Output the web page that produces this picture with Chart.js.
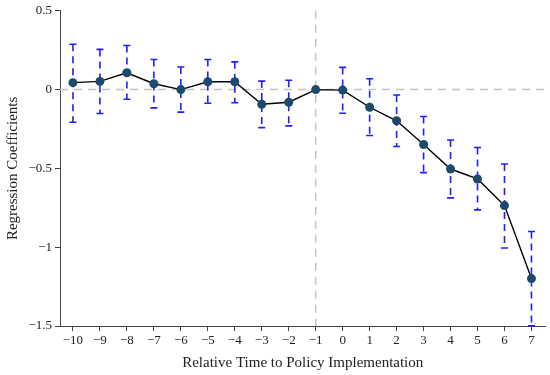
<!DOCTYPE html>
<html>
<head>
<meta charset="utf-8">
<script src="https://cdn.jsdelivr.net/npm/chart.js@4/dist/chart.umd.min.js"></script>
<style>
html,body{margin:0;padding:0;background:#fff;}
#wrap{width:550px;height:375px;}
</style>
</head>
<body>
<div id="wrap"><canvas id="c" width="550" height="375"></canvas></div>
<script>
const relTime = [-10,-9,-8,-7,-6,-5,-4,-3,-2,-1,0,1,2,3,4,5,6,7];
const coef    = [0.044,0.052,0.107,0.037,0.000,0.050,0.050,-0.093,-0.080,0.000,-0.003,-0.112,-0.198,-0.348,-0.504,-0.567,-0.736,-1.199];
const ciHigh  = [0.288,0.255,0.280,0.191,0.143,0.191,0.176,0.054,0.059,null,0.141,0.069,-0.034,-0.171,-0.320,-0.367,-0.472,-0.900];
const ciLow   = [-0.207,-0.152,-0.061,-0.116,-0.143,-0.087,-0.083,-0.241,-0.230,null,-0.150,-0.291,-0.361,-0.527,-0.687,-0.763,-1.005,-1.498];
const xTicks  = [-10,-9,-8,-7,-6,-5,-4,-3,-2,-1,0,1,2,3,4,5,6,7];
const yTicks  = [0.5,0,-0.5,-1,-1.5];
const refX = -1;
const refY = 0;

const fmt = v => (v < 0 ? '\u2212' + String(Math.abs(v)) : String(v));
const FONT = "'Liberation Serif','Times New Roman',serif";

const refLines = {
  id: 'refLines',
  beforeDatasetsDraw(chart) {
    const {ctx, chartArea: a, scales: {x, y}} = chart;
    ctx.save();
    ctx.strokeStyle = '#c4c4c4';
    ctx.lineWidth = 1.5;
    ctx.setLineDash([8, 6]);
    const yy = y.getPixelForValue(refY);
    ctx.beginPath(); ctx.moveTo(a.left, yy); ctx.lineTo(a.right, yy); ctx.stroke();
    const xx = x.getPixelForValue(refX);
    ctx.beginPath(); ctx.moveTo(xx, a.top); ctx.lineTo(xx, a.bottom); ctx.stroke();
    // error bars
    ctx.strokeStyle = '#1f1fff';
    ctx.lineWidth = 1.6;
    for (let i = 0; i < relTime.length; i++) {
      if (ciLow[i] == null) continue;
      const px = x.getPixelForValue(relTime[i]);
      const pt = y.getPixelForValue(ciHigh[i]);
      const pb = y.getPixelForValue(ciLow[i]);
      ctx.setLineDash([7, 5]);
      ctx.beginPath(); ctx.moveTo(px, pt); ctx.lineTo(px, pb); ctx.stroke();
      ctx.setLineDash([]);
      ctx.beginPath();
      ctx.moveTo(px - 3.5, pt); ctx.lineTo(px + 3.5, pt);
      ctx.moveTo(px - 3.5, pb); ctx.lineTo(px + 3.5, pb);
      ctx.stroke();
    }
    ctx.restore();
  }
};

new Chart(document.getElementById('c'), {
  type: 'line',
  data: {
    datasets: [{
      data: relTime.map((t, i) => ({x: t, y: coef[i]})),
      borderColor: '#000',
      borderWidth: 1.4,
      pointRadius: 4.5,
      pointBackgroundColor: '#1b4a6d',
      pointBorderColor: '#1b4a6d',
      pointBorderWidth: 0,
      tension: 0,
      fill: false
    }]
  },
  options: {
    responsive: false,
    animation: false,
    events: [],
    layout: {padding: {top: 9, right: 3, left: 0, bottom: 0}},
    plugins: {legend: {display: false}, tooltip: {enabled: false}},
    scales: {
      x: {
        type: 'linear',
        min: -10.48, max: 7.52,
        afterBuildTicks: s => { s.ticks = xTicks.map(v => ({value: v})); },
        afterFit: s => { s.height = 49; },
        border: {display: true, color: '#444', width: 1},
        grid: {display: true, drawOnChartArea: false, drawTicks: true, tickLength: 5, color: '#444'},
        ticks: {font: {family: FONT, size: 13}, color: '#222', padding: 2, maxRotation: 0, autoSkip: false, callback: v => fmt(v)},
        title: {display: true, text: 'Relative Time to Policy Implementation', font: {family: FONT, size: 15}, color: '#222', padding: {top: 4, bottom: 3}}
      },
      y: {
        type: 'linear',
        min: -1.5, max: 0.5,
        afterBuildTicks: s => { s.ticks = yTicks.map(v => ({value: v})); },
        afterFit: s => { s.width = 60; },
        border: {display: true, color: '#444', width: 1},
        grid: {display: true, drawOnChartArea: false, drawTicks: true, tickLength: 5, color: '#444'},
        ticks: {font: {family: FONT, size: 13}, color: '#222', padding: 3, callback: v => fmt(v)},
        title: {display: true, text: 'Regression Coefficients', font: {family: FONT, size: 15}, color: '#222', padding: {top: 4, bottom: 4}}
      }
    }
  },
  plugins: [refLines]
});
</script>
</body>
</html>
